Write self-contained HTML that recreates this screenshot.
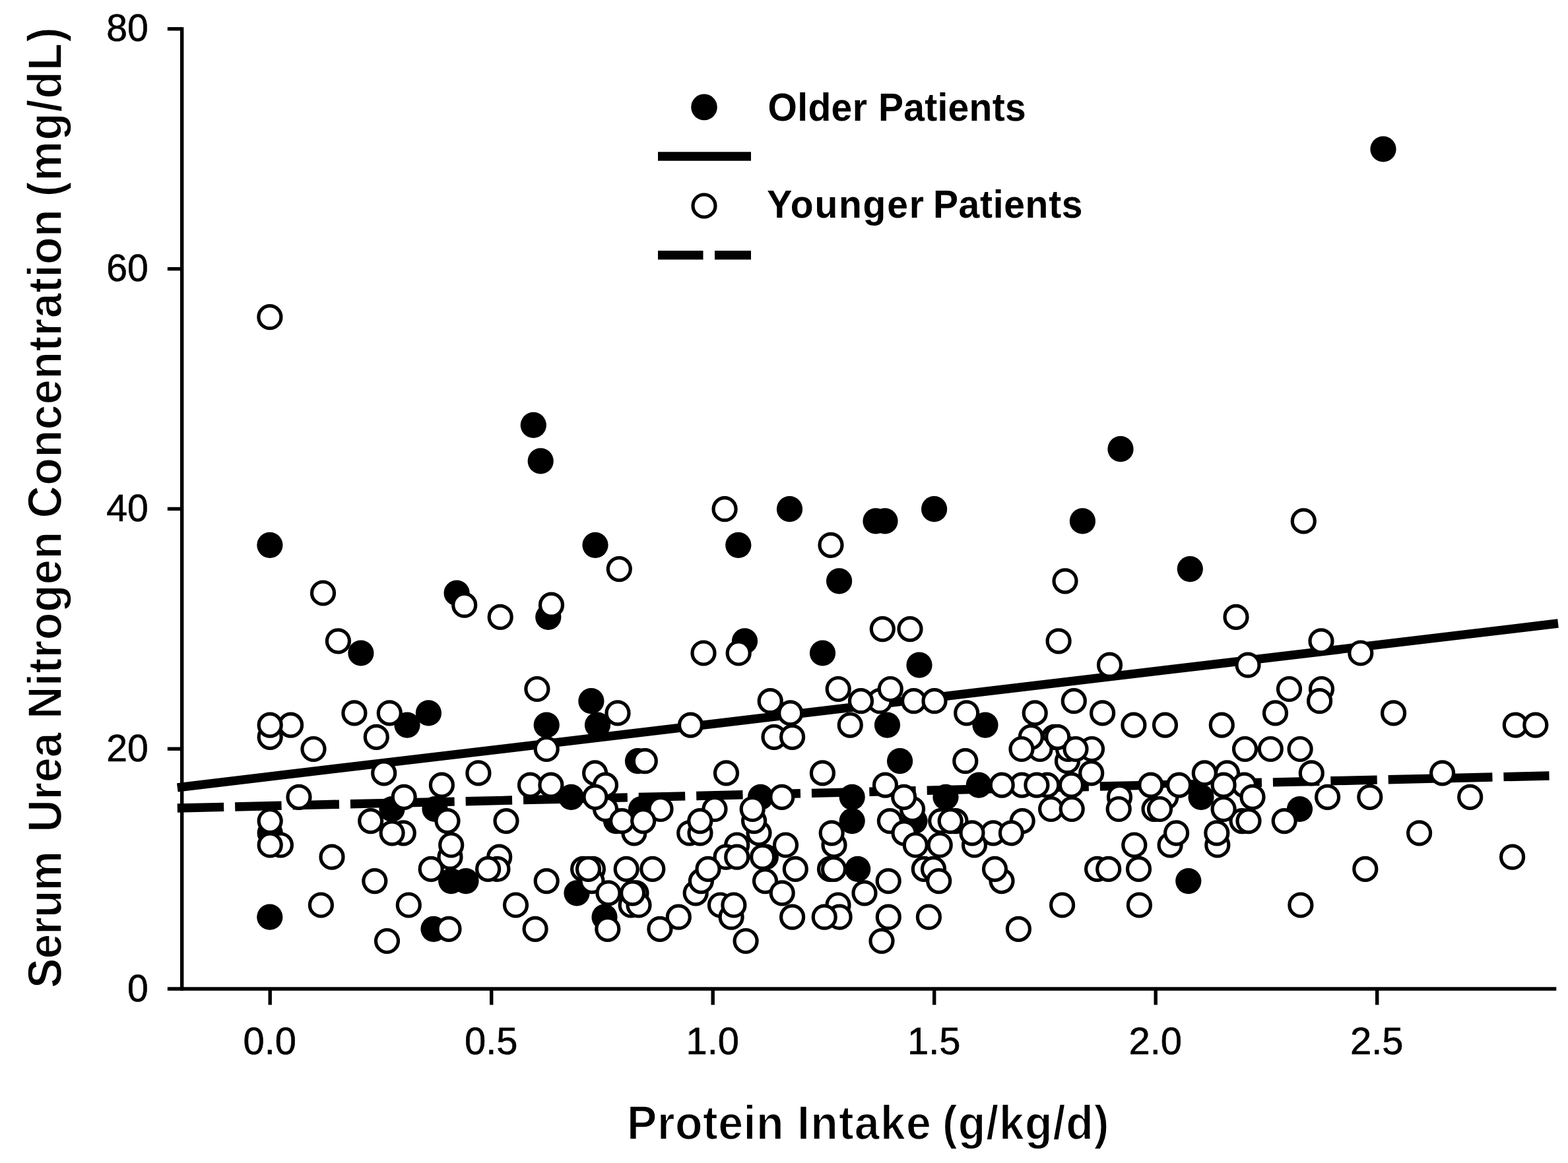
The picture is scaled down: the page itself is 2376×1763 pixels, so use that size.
<!DOCTYPE html>
<html lang="en"><head><meta charset="utf-8"><title>Serum Urea Nitrogen Concentration vs Protein Intake</title>
<style>html,body{margin:0;padding:0;background:#fff;}body{width:2376px;height:1763px;overflow:hidden;}svg{display:block;}text{font-family:"Liberation Sans",Arial,Helvetica,sans-serif;fill:#000;}.t{font-size:56px;stroke:#000;stroke-width:0.6px;}.b{font-weight:bold;}.f{fill:#000;stroke:none;}.o{fill:#fff;stroke:#000;stroke-width:5.2;}.ax{stroke:#000;stroke-width:5.4;fill:none;}</style></head><body>
<svg width="2376" height="1763" viewBox="0 0 2376 1763">
<rect width="2376" height="1763" fill="#fff"/>
<g class="ax">
<path d="M275.7 41.2V1501.7"/>
<path d="M253.8 1499.0H2358.3"/>
<path d="M253.8 1135.2H275.7"/>
<path d="M253.8 771.4H275.7"/>
<path d="M253.8 407.6H275.7"/>
<path d="M253.8 43.8H275.7"/>
<path d="M409.2 1499.0V1523.3"/>
<path d="M744.7 1499.0V1523.3"/>
<path d="M1080.2 1499.0V1523.3"/>
<path d="M1415.7 1499.0V1523.3"/>
<path d="M1751.2 1499.0V1523.3"/>
<path d="M2086.7 1499.0V1523.3"/>
</g>
<text class="t" text-anchor="end" transform="translate(224.8,1517.6) scale(1.020,1.015)">0</text>
<text class="t" text-anchor="end" transform="translate(224.8,1153.8) scale(1.020,1.015)">20</text>
<text class="t" text-anchor="end" transform="translate(224.8,790.0) scale(1.020,1.015)">40</text>
<text class="t" text-anchor="end" transform="translate(224.8,426.2) scale(1.020,1.015)">60</text>
<text class="t" text-anchor="end" transform="translate(224.8,62.4) scale(1.020,1.015)">80</text>
<text class="t" text-anchor="middle" transform="translate(408.7,1598.4) scale(1.035,1.015)">0.0</text>
<text class="t" text-anchor="middle" transform="translate(744.2,1598.4) scale(1.035,1.015)">0.5</text>
<text class="t" text-anchor="middle" transform="translate(1079.7,1598.4) scale(1.035,1.015)">1.0</text>
<text class="t" text-anchor="middle" transform="translate(1415.2,1598.4) scale(1.035,1.015)">1.5</text>
<text class="t" text-anchor="middle" transform="translate(1750.7,1598.4) scale(1.035,1.015)">2.0</text>
<text class="t" text-anchor="middle" transform="translate(2086.2,1598.4) scale(1.035,1.015)">2.5</text>
<text class="b" transform="translate(0,1726.8) scale(1,1.050)" font-size="68" stroke="#fff" stroke-width="1.4"><tspan x="950.0" style="letter-spacing:0.55px">Protein</tspan> <tspan x="1208.0" style="letter-spacing:1.26px">Intake</tspan> <tspan x="1428.0" style="letter-spacing:1.00px">(g/kg/d)</tspan></text>
<text class="b" transform="translate(92.8,0) rotate(-90) scale(1,1.050)" font-size="68" stroke="#fff" stroke-width="1.4"><tspan x="-1498.1" style="letter-spacing:-0.88px">Serum</tspan> <tspan x="-1261.5" style="letter-spacing:-0.03px">Urea</tspan> <tspan x="-1089.8" style="letter-spacing:0.61px">Nitrogen</tspan> <tspan x="-785.4" style="letter-spacing:0.59px">Concentration</tspan> <tspan x="-298.3" style="letter-spacing:1.27px">(mg/dL)</tspan></text>
<path d="M268.8 1193.8L2361 945" stroke="#000" stroke-width="13.4" fill="none"/>
<path d="M268.8 1225.0L2347.5 1176.0" stroke="#000" stroke-width="13.4" fill="none" stroke-dasharray="70.4 17" stroke-dashoffset="0.0"/>
<circle class="f" cx="1067" cy="162.4" r="19.8"/>
<text class="b" transform="translate(0,182.8) scale(1,1.050)" font-size="57" stroke="#fff" stroke-width="0.0"><tspan x="1163.6" style="letter-spacing:0.35px">Older</tspan> <tspan x="1331.0" style="letter-spacing:0.27px">Patients</tspan></text>
<path d="M997 237H1138" stroke="#000" stroke-width="13.6" fill="none"/>
<circle class="o" cx="1067" cy="312" r="17"/>
<text class="b" transform="translate(0,329.8) scale(1,1.050)" font-size="57" stroke="#fff" stroke-width="0.0"><tspan x="1162.3" style="letter-spacing:1.77px">Younger</tspan> <tspan x="1413.9" style="letter-spacing:0.70px">Patients</tspan></text>
<path d="M997 386.8H1065.5M1083 386.8H1138" stroke="#000" stroke-width="13.6" fill="none"/>
<g class="f">
<circle cx="2096.0" cy="226.0" r="19.6"/>
<circle cx="808.3" cy="644.4" r="19.6"/>
<circle cx="1698.0" cy="680.7" r="19.6"/>
<circle cx="819.2" cy="698.9" r="19.6"/>
<circle cx="1196.5" cy="771.7" r="19.6"/>
<circle cx="1415.6" cy="771.7" r="19.6"/>
<circle cx="1327.0" cy="789.9" r="19.6"/>
<circle cx="1341.0" cy="789.9" r="19.6"/>
<circle cx="1640.4" cy="789.9" r="19.6"/>
<circle cx="408.9" cy="826.3" r="19.6"/>
<circle cx="902.0" cy="826.3" r="19.6"/>
<circle cx="1118.8" cy="826.3" r="19.6"/>
<circle cx="1803.3" cy="862.6" r="19.6"/>
<circle cx="1271.6" cy="880.8" r="19.6"/>
<circle cx="692.1" cy="899.0" r="19.6"/>
<circle cx="830.8" cy="935.4" r="19.6"/>
<circle cx="1128.5" cy="971.8" r="19.6"/>
<circle cx="546.9" cy="990.0" r="19.6"/>
<circle cx="1246.5" cy="990.0" r="19.6"/>
<circle cx="1393.0" cy="1008.2" r="19.6"/>
<circle cx="895.9" cy="1062.7" r="19.6"/>
<circle cx="649.4" cy="1080.9" r="19.6"/>
<circle cx="617.0" cy="1099.1" r="19.6"/>
<circle cx="828.2" cy="1099.1" r="19.6"/>
<circle cx="905.5" cy="1099.1" r="19.6"/>
<circle cx="1344.5" cy="1099.1" r="19.6"/>
<circle cx="1493.0" cy="1099.1" r="19.6"/>
<circle cx="966.5" cy="1153.7" r="19.6"/>
<circle cx="1363.6" cy="1153.7" r="19.6"/>
<circle cx="1483.3" cy="1190.1" r="19.6"/>
<circle cx="865.5" cy="1208.3" r="19.6"/>
<circle cx="1152.5" cy="1208.3" r="19.6"/>
<circle cx="1291.2" cy="1208.3" r="19.6"/>
<circle cx="1433.0" cy="1208.3" r="19.6"/>
<circle cx="1820.0" cy="1208.3" r="19.6"/>
<circle cx="594.0" cy="1226.5" r="19.6"/>
<circle cx="659.0" cy="1226.5" r="19.6"/>
<circle cx="971.6" cy="1226.5" r="19.6"/>
<circle cx="1969.5" cy="1226.5" r="19.6"/>
<circle cx="933.5" cy="1244.6" r="19.6"/>
<circle cx="1291.2" cy="1244.6" r="19.6"/>
<circle cx="1386.0" cy="1244.6" r="19.6"/>
<circle cx="409.2" cy="1262.8" r="19.6"/>
<circle cx="1299.7" cy="1317.4" r="19.6"/>
<circle cx="683.7" cy="1335.6" r="19.6"/>
<circle cx="706.0" cy="1335.6" r="19.6"/>
<circle cx="1800.8" cy="1335.6" r="19.6"/>
<circle cx="874.0" cy="1353.8" r="19.6"/>
<circle cx="408.8" cy="1390.2" r="19.6"/>
<circle cx="916.0" cy="1390.2" r="19.6"/>
<circle cx="657.0" cy="1408.3" r="19.6"/>
</g>
<g class="o">
<circle cx="1617.5" cy="1153.7" r="17"/>
<circle cx="2002.5" cy="1044.5" r="17"/>
<circle cx="1333.1" cy="1062.7" r="17"/>
<circle cx="2296.3" cy="1099.1" r="17"/>
<circle cx="409.2" cy="1117.3" r="17"/>
<circle cx="1173.0" cy="1117.3" r="17"/>
<circle cx="1597.5" cy="1117.3" r="17"/>
<circle cx="1576.0" cy="1135.5" r="17"/>
<circle cx="1618.6" cy="1135.5" r="17"/>
<circle cx="1654.5" cy="1135.5" r="17"/>
<circle cx="901.6" cy="1171.9" r="17"/>
<circle cx="1859.5" cy="1171.9" r="17"/>
<circle cx="1548.5" cy="1190.1" r="17"/>
<circle cx="1586.8" cy="1190.1" r="17"/>
<circle cx="1885.5" cy="1190.1" r="17"/>
<circle cx="1696.5" cy="1208.3" r="17"/>
<circle cx="1766.8" cy="1208.3" r="17"/>
<circle cx="917.5" cy="1226.5" r="17"/>
<circle cx="1083.0" cy="1226.5" r="17"/>
<circle cx="1382.6" cy="1226.5" r="17"/>
<circle cx="1749.0" cy="1226.5" r="17"/>
<circle cx="1425.7" cy="1244.6" r="17"/>
<circle cx="1448.0" cy="1244.6" r="17"/>
<circle cx="1882.0" cy="1244.6" r="17"/>
<circle cx="611.3" cy="1262.8" r="17"/>
<circle cx="960.9" cy="1262.8" r="17"/>
<circle cx="1044.7" cy="1262.8" r="17"/>
<circle cx="1150.0" cy="1262.8" r="17"/>
<circle cx="1505.0" cy="1262.8" r="17"/>
<circle cx="425.4" cy="1281.0" r="17"/>
<circle cx="1116.7" cy="1281.0" r="17"/>
<circle cx="1264.0" cy="1281.0" r="17"/>
<circle cx="1476.5" cy="1281.0" r="17"/>
<circle cx="1773.1" cy="1281.0" r="17"/>
<circle cx="1844.8" cy="1281.0" r="17"/>
<circle cx="682.0" cy="1299.2" r="17"/>
<circle cx="756.7" cy="1299.2" r="17"/>
<circle cx="1100.1" cy="1299.2" r="17"/>
<circle cx="1160.3" cy="1299.2" r="17"/>
<circle cx="883.6" cy="1317.4" r="17"/>
<circle cx="898.4" cy="1317.4" r="17"/>
<circle cx="1257.5" cy="1317.4" r="17"/>
<circle cx="1400.3" cy="1317.4" r="17"/>
<circle cx="1662.6" cy="1317.4" r="17"/>
<circle cx="897.0" cy="1335.6" r="17"/>
<circle cx="1518.0" cy="1335.6" r="17"/>
<circle cx="1054.2" cy="1353.8" r="17"/>
<circle cx="956.2" cy="1372.0" r="17"/>
<circle cx="1091.5" cy="1372.0" r="17"/>
<circle cx="1270.0" cy="1372.0" r="17"/>
<circle cx="1108.1" cy="1390.2" r="17"/>
<circle cx="408.9" cy="480.7" r="17"/>
<circle cx="1098.1" cy="771.7" r="17"/>
<circle cx="1975.3" cy="789.9" r="17"/>
<circle cx="1259.0" cy="826.3" r="17"/>
<circle cx="938.3" cy="862.6" r="17"/>
<circle cx="1614.0" cy="880.8" r="17"/>
<circle cx="489.5" cy="899.0" r="17"/>
<circle cx="703.7" cy="917.2" r="17"/>
<circle cx="835.5" cy="917.2" r="17"/>
<circle cx="758.2" cy="935.4" r="17"/>
<circle cx="1873.0" cy="935.4" r="17"/>
<circle cx="1337.3" cy="953.6" r="17"/>
<circle cx="1379.0" cy="953.6" r="17"/>
<circle cx="512.4" cy="971.8" r="17"/>
<circle cx="1604.1" cy="971.8" r="17"/>
<circle cx="2002.0" cy="971.8" r="17"/>
<circle cx="1066.0" cy="990.0" r="17"/>
<circle cx="1119.2" cy="990.0" r="17"/>
<circle cx="2061.8" cy="990.0" r="17"/>
<circle cx="1681.5" cy="1008.2" r="17"/>
<circle cx="1891.0" cy="1008.2" r="17"/>
<circle cx="813.9" cy="1044.5" r="17"/>
<circle cx="1270.2" cy="1044.5" r="17"/>
<circle cx="1953.5" cy="1044.5" r="17"/>
<circle cx="1167.2" cy="1062.7" r="17"/>
<circle cx="1384.6" cy="1062.7" r="17"/>
<circle cx="1416.0" cy="1062.7" r="17"/>
<circle cx="1627.3" cy="1062.7" r="17"/>
<circle cx="1999.6" cy="1062.7" r="17"/>
<circle cx="536.9" cy="1080.9" r="17"/>
<circle cx="590.3" cy="1080.9" r="17"/>
<circle cx="936.0" cy="1080.9" r="17"/>
<circle cx="1197.7" cy="1080.9" r="17"/>
<circle cx="1464.7" cy="1080.9" r="17"/>
<circle cx="1568.2" cy="1080.9" r="17"/>
<circle cx="1670.6" cy="1080.9" r="17"/>
<circle cx="1932.5" cy="1080.9" r="17"/>
<circle cx="2111.6" cy="1080.9" r="17"/>
<circle cx="440.6" cy="1099.1" r="17"/>
<circle cx="1046.5" cy="1099.1" r="17"/>
<circle cx="1288.3" cy="1099.1" r="17"/>
<circle cx="1717.9" cy="1099.1" r="17"/>
<circle cx="1765.5" cy="1099.1" r="17"/>
<circle cx="1851.3" cy="1099.1" r="17"/>
<circle cx="2326.8" cy="1099.1" r="17"/>
<circle cx="570.3" cy="1117.3" r="17"/>
<circle cx="1200.6" cy="1117.3" r="17"/>
<circle cx="1562.3" cy="1117.3" r="17"/>
<circle cx="475.0" cy="1135.5" r="17"/>
<circle cx="828.2" cy="1135.5" r="17"/>
<circle cx="1886.5" cy="1135.5" r="17"/>
<circle cx="1925.3" cy="1135.5" r="17"/>
<circle cx="1970.1" cy="1135.5" r="17"/>
<circle cx="977.3" cy="1153.7" r="17"/>
<circle cx="1462.8" cy="1153.7" r="17"/>
<circle cx="581.7" cy="1171.9" r="17"/>
<circle cx="724.9" cy="1171.9" r="17"/>
<circle cx="1100.5" cy="1171.9" r="17"/>
<circle cx="1246.4" cy="1171.9" r="17"/>
<circle cx="1825.3" cy="1171.9" r="17"/>
<circle cx="1987.3" cy="1171.9" r="17"/>
<circle cx="2185.6" cy="1171.9" r="17"/>
<circle cx="669.4" cy="1190.1" r="17"/>
<circle cx="803.5" cy="1190.1" r="17"/>
<circle cx="834.9" cy="1190.1" r="17"/>
<circle cx="917.5" cy="1190.1" r="17"/>
<circle cx="1341.5" cy="1190.1" r="17"/>
<circle cx="1518.2" cy="1190.1" r="17"/>
<circle cx="1623.5" cy="1190.1" r="17"/>
<circle cx="1743.8" cy="1190.1" r="17"/>
<circle cx="1786.6" cy="1190.1" r="17"/>
<circle cx="1854.1" cy="1190.1" r="17"/>
<circle cx="453.0" cy="1208.3" r="17"/>
<circle cx="612.2" cy="1208.3" r="17"/>
<circle cx="1184.8" cy="1208.3" r="17"/>
<circle cx="1898.0" cy="1208.3" r="17"/>
<circle cx="2011.6" cy="1208.3" r="17"/>
<circle cx="2075.8" cy="1208.3" r="17"/>
<circle cx="2227.7" cy="1208.3" r="17"/>
<circle cx="1001.0" cy="1226.5" r="17"/>
<circle cx="1592.6" cy="1226.5" r="17"/>
<circle cx="1624.2" cy="1226.5" r="17"/>
<circle cx="1695.2" cy="1226.5" r="17"/>
<circle cx="1757.5" cy="1226.5" r="17"/>
<circle cx="1854.1" cy="1226.5" r="17"/>
<circle cx="561.7" cy="1244.6" r="17"/>
<circle cx="678.0" cy="1244.6" r="17"/>
<circle cx="767.0" cy="1244.6" r="17"/>
<circle cx="942.6" cy="1244.6" r="17"/>
<circle cx="974.7" cy="1244.6" r="17"/>
<circle cx="1142.6" cy="1244.6" r="17"/>
<circle cx="1348.4" cy="1244.6" r="17"/>
<circle cx="1549.2" cy="1244.6" r="17"/>
<circle cx="1892.0" cy="1244.6" r="17"/>
<circle cx="594.1" cy="1262.8" r="17"/>
<circle cx="1061.0" cy="1262.8" r="17"/>
<circle cx="1370.0" cy="1262.8" r="17"/>
<circle cx="1473.0" cy="1262.8" r="17"/>
<circle cx="1532.4" cy="1262.8" r="17"/>
<circle cx="1782.6" cy="1262.8" r="17"/>
<circle cx="1843.8" cy="1262.8" r="17"/>
<circle cx="2150.6" cy="1262.8" r="17"/>
<circle cx="683.7" cy="1281.0" r="17"/>
<circle cx="1190.5" cy="1281.0" r="17"/>
<circle cx="1387.3" cy="1281.0" r="17"/>
<circle cx="1424.2" cy="1281.0" r="17"/>
<circle cx="1718.8" cy="1281.0" r="17"/>
<circle cx="503.0" cy="1299.2" r="17"/>
<circle cx="1155.6" cy="1299.2" r="17"/>
<circle cx="2291.6" cy="1299.2" r="17"/>
<circle cx="753.9" cy="1317.4" r="17"/>
<circle cx="891.5" cy="1317.4" r="17"/>
<circle cx="949.2" cy="1317.4" r="17"/>
<circle cx="988.8" cy="1317.4" r="17"/>
<circle cx="1205.3" cy="1317.4" r="17"/>
<circle cx="1263.5" cy="1317.4" r="17"/>
<circle cx="1414.5" cy="1317.4" r="17"/>
<circle cx="1507.5" cy="1317.4" r="17"/>
<circle cx="1679.7" cy="1317.4" r="17"/>
<circle cx="1725.5" cy="1317.4" r="17"/>
<circle cx="2068.8" cy="1317.4" r="17"/>
<circle cx="567.8" cy="1335.6" r="17"/>
<circle cx="828.2" cy="1335.6" r="17"/>
<circle cx="1062.4" cy="1335.6" r="17"/>
<circle cx="1159.5" cy="1335.6" r="17"/>
<circle cx="1346.2" cy="1335.6" r="17"/>
<circle cx="964.0" cy="1353.8" r="17"/>
<circle cx="1185.2" cy="1353.8" r="17"/>
<circle cx="1310.0" cy="1353.8" r="17"/>
<circle cx="486.4" cy="1372.0" r="17"/>
<circle cx="619.3" cy="1372.0" r="17"/>
<circle cx="781.5" cy="1372.0" r="17"/>
<circle cx="968.0" cy="1372.0" r="17"/>
<circle cx="1609.6" cy="1372.0" r="17"/>
<circle cx="1726.4" cy="1372.0" r="17"/>
<circle cx="1970.9" cy="1372.0" r="17"/>
<circle cx="1028.3" cy="1390.2" r="17"/>
<circle cx="1200.6" cy="1390.2" r="17"/>
<circle cx="1272.1" cy="1390.2" r="17"/>
<circle cx="1346.3" cy="1390.2" r="17"/>
<circle cx="1407.4" cy="1390.2" r="17"/>
<circle cx="811.1" cy="1408.3" r="17"/>
<circle cx="920.8" cy="1408.3" r="17"/>
<circle cx="999.9" cy="1408.3" r="17"/>
<circle cx="1543.4" cy="1408.3" r="17"/>
<circle cx="586.5" cy="1426.5" r="17"/>
<circle cx="1130.1" cy="1426.5" r="17"/>
<circle cx="1336.0" cy="1426.5" r="17"/>
<circle cx="1349.3" cy="1044.5" r="17"/>
<circle cx="1304.5" cy="1062.7" r="17"/>
<circle cx="409.2" cy="1099.1" r="17"/>
<circle cx="1602.7" cy="1117.3" r="17"/>
<circle cx="1548.0" cy="1135.5" r="17"/>
<circle cx="1630.0" cy="1135.5" r="17"/>
<circle cx="1653.7" cy="1171.9" r="17"/>
<circle cx="1570.9" cy="1190.1" r="17"/>
<circle cx="902.0" cy="1208.3" r="17"/>
<circle cx="1369.7" cy="1208.3" r="17"/>
<circle cx="1140.2" cy="1226.5" r="17"/>
<circle cx="409.2" cy="1244.6" r="17"/>
<circle cx="1060.8" cy="1244.6" r="17"/>
<circle cx="1440.2" cy="1244.6" r="17"/>
<circle cx="1946.2" cy="1244.6" r="17"/>
<circle cx="1260.2" cy="1262.8" r="17"/>
<circle cx="409.2" cy="1281.0" r="17"/>
<circle cx="1116.7" cy="1299.2" r="17"/>
<circle cx="653.2" cy="1317.4" r="17"/>
<circle cx="739.6" cy="1317.4" r="17"/>
<circle cx="1073.0" cy="1317.4" r="17"/>
<circle cx="1422.7" cy="1335.6" r="17"/>
<circle cx="922.0" cy="1353.8" r="17"/>
<circle cx="958.6" cy="1353.8" r="17"/>
<circle cx="1111.9" cy="1372.0" r="17"/>
<circle cx="1249.2" cy="1390.2" r="17"/>
<circle cx="680.0" cy="1408.3" r="17"/>
</g>
</svg></body></html>
